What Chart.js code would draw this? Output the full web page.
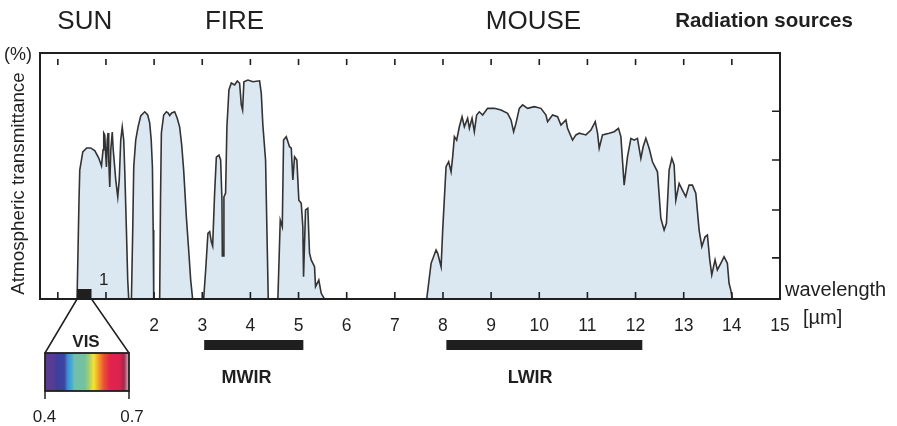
<!DOCTYPE html>
<html><head><meta charset="utf-8">
<script src="https://cdn.jsdelivr.net/npm/chart.js@4.4.1/dist/chart.umd.min.js"></script>
<style>html,body{margin:0;padding:0;background:#fff}canvas{display:block}</style>
</head><body>
<canvas id="c" width="897" height="426"></canvas>
<script>
// ---- data (wavelength in µm, transmittance in % of plot height) ----
const wavelengthUm = [
  0, 0.40, 0.44, 0.456, 0.519, 0.60, 0.685, 0.77, 0.85, 0.907, 0.94, 0.954, 0.975, 0.99, 1.01, 1.027, 1.044, 1.058, 1.079, 1.10, 1.131, 1.151, 1.183, 1.203, 1.245, 1.276, 1.307, 1.338, 1.369, 1.39, 1.425, 1.452, 1.473,
  1.529, 1.556, 1.577, 1.618, 1.666, 1.722, 1.805, 1.867, 1.909, 1.94, 1.965, 1.981, 1.992,
  2.116, 2.133, 2.151, 2.199, 2.255, 2.293, 2.324, 2.365, 2.427, 2.479, 2.531, 2.573, 2.614, 2.67, 2.718, 2.76, 2.80,
  3.029, 3.071, 3.118, 3.154, 3.189, 3.216, 3.257, 3.293, 3.347, 3.382, 3.409, 3.417, 3.434, 3.45, 3.485, 3.512, 3.554, 3.604, 3.672, 3.728, 3.776, 3.811, 3.838, 3.865, 3.948, 4.052, 4.191, 4.226, 4.259, 4.315, 4.342, 4.371,
  4.571, 4.62, 4.662, 4.689, 4.745, 4.813, 4.849, 4.882, 4.917, 4.965, 5.006, 5.056, 5.089, 5.104, 5.145, 5.193, 5.228, 5.263, 5.332, 5.353, 5.421, 5.471, 5.539,
  7.662, 7.753, 7.857, 7.89, 7.961, 7.994, 8.064, 8.118, 8.168, 8.201,
  8.237, 8.284, 8.34, 8.396, 8.444, 8.512, 8.548, 8.604, 8.651, 8.699,
  8.755, 8.824, 8.927, 9.066, 9.205, 9.342, 9.413, 9.467, 9.516, 9.585,
  9.654, 9.757, 9.896, 10.035, 10.139, 10.172, 10.276, 10.38, 10.45, 10.554,
  10.587, 10.691, 10.761, 10.83, 10.969, 11.073, 11.162, 11.21, 11.245, 11.313,
  11.452, 11.556, 11.645, 11.695, 11.763, 11.832, 11.903, 11.971, 12.039, 12.11,
  12.158, 12.214, 12.282, 12.351, 12.455, 12.525, 12.593, 12.641, 12.697, 12.753,
  12.801, 12.836, 12.905, 12.973, 13.043, 13.112, 13.18, 13.251, 13.32, 13.376,
  13.444, 13.492, 13.541, 13.583, 13.651, 13.699, 13.77, 13.838, 13.907, 13.942,
  13.977, 14.01,
  15
];
const transmittancePct = [
  0, 0, 40, 52.4, 59.8, 61.4, 61.4, 60.2, 57.3, 54.1, 60.6, 67.5, 66.7, 60.6, 53.7, 64.6, 67.5, 56.5, 45.5, 60.6, 67.9, 60.6, 53.3, 48.4, 41.5, 48.4, 64.6, 69.9, 64.6, 52.4, 28, 7.7, 0,
  0, 28, 53.7, 64.6, 69.9, 74.4, 76.1, 74.8, 71.5, 64.6, 53.7, 28, 0,
  0, 40.2, 67.5, 74.8, 76.1, 75.6, 74.6, 75.6, 76.1, 73.6, 69.9, 62.6, 52.4, 33.3, 19.9, 7.7, 0,
  0, 11.8, 26.7, 27.4, 23.2, 21.5, 43.1, 57.7, 58.5, 56.5, 40.2, 17.5, 17.5, 41.5, 43.1, 69.9, 85, 87.8, 87, 88.6, 87.7, 78.9, 76.8, 88.3, 89, 88.3, 88.7, 83.6, 70.7, 56.5, 29.3, 0,
  0, 32.1, 29.4, 64.6, 66, 61.9, 61.3, 48.4, 57.8, 56.5, 40.2, 38.9, 29.4, 9.1, 36.2, 36.9, 18.6, 15.9, 13.1, 5, 7.7, 2.3, 0,
  0, 14.5, 19.9, 18.6, 13.1, 28, 53.8, 55.8, 51.7, 57.8,
  66, 64.6, 70, 74.1, 70, 73.5, 69.4, 73.5, 68, 74.8,
  76.1, 74.8, 77.5, 77.5, 76.8, 75.5, 72.8, 68, 71.4, 77.5,
  78.9, 77.5, 78.2, 77.5, 74.8, 72.1, 74.8, 74.1, 70.7, 72.8,
  69.4, 64.6, 66.7, 67.4, 66.7, 68.7, 72.1, 67.4, 61.3, 66.7,
  67.4, 68, 69.4, 66, 46.3, 57.8, 65.3, 64.6, 65.3, 57.2,
  61.9, 65.3, 61.3, 55.8, 51.7, 32.8, 28, 30.8, 52.4, 57.2,
  54.5, 40.2, 47, 44.3, 41.6, 46.3, 46.3, 43, 28, 21.3,
  25.3, 26, 15.9, 9.8, 15.9, 11.8, 14.5, 17.2, 14.5, 6.4,
  3.7, 0,
  0
];
const xTickValues = [0,1,2,3,4,5,6,7,8,9,10,11,12,13,14,15];
const xTickLabels = ['','','2','3','4','5','6','7','8','9','10','11','12','13','14','15'];
const innerTickValues = [0,1,2,3,4,5,6,7,8,9,10,11,12,13,14];
const rightTickValues = [16.7, 36.2, 56.5, 76.3];
const sourceLabels = ['SUN', 'FIRE', 'MOUSE'];
const sourceCenters = [0.56, 3.67, 9.88];
const bandLabels = ['MWIR', 'LWIR'];
const bandStart = [3.04, 8.07];
const bandEnd = [5.1, 12.14];
const bandLabelCenter = [3.92, 9.81];
const visRange = [0.4, 0.7];
const visLabels = ['0.4', '0.7'];
const windowMark = {label: '1', at: 0.954};
const yTitle = 'Atmospheric transmittance';

const FONT = '"Liberation Sans", Arial, Helvetica, sans-serif';
const INK = '#1f1f1f';

const points = wavelengthUm.map((w, i) => ({x: w, y: transmittancePct[i]}));

const annot = {
  id: 'annot',
  afterDatasetsDraw(chart) {
    const {ctx, chartArea: a, scales: {x, y}} = chart;
    ctx.save();
    // frame
    ctx.strokeStyle = INK; ctx.lineWidth = 2;
    ctx.strokeRect(a.left, a.top, a.right - a.left, a.bottom - a.top);
    // inner ticks
    ctx.lineWidth = 1.6;
    ctx.beginPath();
    innerTickValues.forEach(v => {
      const px = x.getPixelForValue(v);
      ctx.moveTo(px, a.bottom); ctx.lineTo(px, a.bottom - 7);
      ctx.moveTo(px, a.top + 6); ctx.lineTo(px, a.top + 12);
    });
    rightTickValues.forEach(v => {
      const py = y.getPixelForValue(v);
      ctx.moveTo(a.right, py); ctx.lineTo(a.right - 8, py);
    });
    ctx.stroke();

    ctx.fillStyle = INK;
    // y title
    ctx.save();
    ctx.translate(18.5, 183.5);
    ctx.rotate(-Math.PI / 2);
    ctx.textAlign = 'center'; ctx.textBaseline = 'middle';
    ctx.font = '18.8px ' + FONT;
    ctx.fillText(yTitle, 0, 0);
    ctx.restore();
    // top source labels
    ctx.textAlign = 'center'; ctx.textBaseline = 'alphabetic';
    ctx.font = '26px ' + FONT;
    sourceLabels.forEach((t, i) => ctx.fillText(t, x.getPixelForValue(sourceCenters[i]), 28.5));
    ctx.font = 'bold 20.5px ' + FONT;
    ctx.fillText('Radiation sources', 764, 26.5);
    // (%)
    ctx.textAlign = 'left';
    ctx.font = '18px ' + FONT;
    ctx.fillText('(%)', 4, 60);
    // window mark "1"
    ctx.textAlign = 'center';
    ctx.font = '17px ' + FONT;
    ctx.fillText(windowMark.label, x.getPixelForValue(windowMark.at), 285);
    // wavelength [µm]
    ctx.textAlign = 'left';
    ctx.font = '20px ' + FONT;
    ctx.fillText('wavelength', 785, 296);
    ctx.fillText('[µm]', 803, 324);
    // bands
    ctx.textAlign = 'center';
    ctx.font = 'bold 18px ' + FONT;
    bandLabels.forEach((t, i) => {
      const x0 = x.getPixelForValue(bandStart[i]), x1 = x.getPixelForValue(bandEnd[i]);
      ctx.fillRect(x0, 340, x1 - x0, 10);
      ctx.fillText(t, x.getPixelForValue(bandLabelCenter[i]), 383);
    });
    // VIS marker on axis
    const v0 = x.getPixelForValue(visRange[0]), v1 = x.getPixelForValue(visRange[1]);
    ctx.fillRect(v0, a.bottom - 10, v1 - v0, 11);
    const bx0 = 45, bx1 = 129, by0 = 353, by1 = 391;
    ctx.lineWidth = 1.5;
    ctx.beginPath();
    ctx.moveTo(v0, a.bottom); ctx.lineTo(bx0, by0);
    ctx.moveTo(v1, a.bottom); ctx.lineTo(bx1, by0);
    ctx.moveTo(bx0, by1); ctx.lineTo(bx0, by1 + 8);
    ctx.moveTo(bx1, by1); ctx.lineTo(bx1, by1 + 8);
    ctx.stroke();
    ctx.font = 'bold 17px ' + FONT;
    ctx.fillText('VIS', 86, 346.5);
    // spectrum
    const g = ctx.createLinearGradient(bx0, 0, bx1, 0);
    [[0, '#5c3b90'], [0.10, '#563c94'], [0.14, '#3e3f9c'], [0.23, '#3c45a0'], [0.27, '#3a90d4'],
     [0.31, '#44a6d6'], [0.35, '#6fbfac'], [0.47, '#76c29c'], [0.52, '#a6cc6a'], [0.58, '#f4e430'],
     [0.64, '#f29a2c'], [0.70, '#ec5034'], [0.77, '#e2244e'], [0.89, '#dc2250'], [0.94, '#9c2a4a'],
     [1, '#d8b8c0']].forEach(s => g.addColorStop(s[0], s[1]));
    ctx.fillStyle = g;
    ctx.fillRect(bx0, by0, bx1 - bx0, by1 - by0);
    ctx.lineWidth = 1.8;
    ctx.strokeRect(bx0, by0, bx1 - bx0, by1 - by0);
    ctx.fillStyle = INK;
    ctx.font = '17px ' + FONT;
    ctx.fillText(visLabels[0], 44.5, 422);
    ctx.fillText(visLabels[1], 132, 422);
    ctx.restore();
  }
};

new Chart(document.getElementById('c').getContext('2d'), {
  type: 'line',
  data: {
    datasets: [{
      data: points,
      borderColor: '#333333',
      borderWidth: 1.6,
      backgroundColor: '#dbe8f2',
      fill: 'origin',
      pointRadius: 0,
      tension: 0
    }]
  },
  options: {
    responsive: false,
    animation: false,
    events: [],
    layout: {padding: {left: 0, top: 53, right: 117, bottom: 87}},
    plugins: {legend: {display: false}, tooltip: {enabled: false}},
    scales: {
      x: {
        type: 'linear', min: -0.37, max: 15,
        afterBuildTicks: s => { s.ticks = xTickValues.map(v => ({value: v})); },
        afterFit: s => { s.height = 40; },
        grid: {display: false},
        border: {display: false},
        ticks: {
          autoSkip: false, maxRotation: 0, padding: 9, color: INK,
          font: {family: FONT, size: 17.5},
          callback: v => xTickLabels[xTickValues.indexOf(v)]
        }
      },
      y: {
        min: 0, max: 100,
        afterFit: s => { s.width = 40; },
        ticks: {display: false},
        grid: {display: false},
        border: {display: false}
      }
    }
  },
  plugins: [annot]
});
</script>
</body></html>
